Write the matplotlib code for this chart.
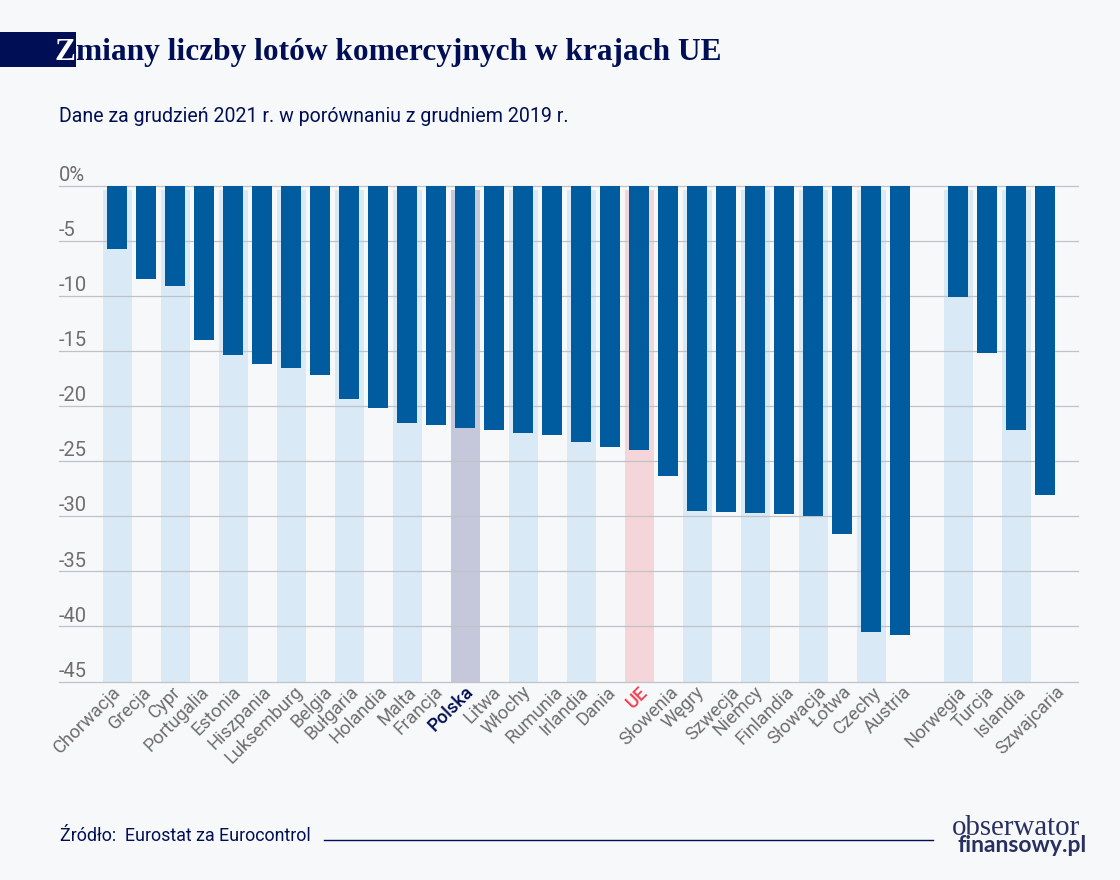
import matplotlib
matplotlib.use('Agg')
import matplotlib.pyplot as plt
from matplotlib.patches import Rectangle
from matplotlib.transforms import ScaledTranslation

countries = ['Chorwacja', 'Grecja', 'Cypr', 'Portugalia', 'Estonia', 'Hiszpania', 'Luksemburg', 'Belgia',
             'Bułgaria', 'Holandia', 'Malta', 'Francja', 'Polska', 'Litwa', 'Włochy', 'Rumunia', 'Irlandia',
             'Dania', 'UE', 'Słowenia', 'Węgry', 'Szwecja', 'Niemcy', 'Finlandia', 'Słowacja', 'Łotwa',
             'Czechy', 'Austria', 'Norwegia', 'Turcja', 'Islandia', 'Szwajcaria']
values = [-5.75, -8.45, -9.05, -14.0, -15.35, -16.2, -16.5, -17.2,
          -19.35, -20.15, -21.5, -21.7, -22.0, -22.2, -22.45, -22.65, -23.25,
          -23.7, -24.0, -26.35, -29.5, -29.6, -29.7, -29.8, -29.95, -31.6,
          -40.5, -40.8, -10.1, -15.15, -22.15, -28.05]
positions = list(range(28)) + [29, 30, 31, 32]
y_ticks = [0, -5, -10, -15, -20, -25, -30, -35, -40, -45]
y_labels = ['0%', '-5', '-10', '-15', '-20', '-25', '-30', '-35', '-40', '-45']

# labels in the original don't sit evenly under the bars, offset in px
label_dx = [-5, -4, -3, -4, -1, 0, 3, 3, 1, 0, 0, -2, -1, -2, -1, 2, -2,
            -3, 0, 1, -2, 4, -1, 1, 4, 0, 1, 2, -1, -2, 1, 10]

BG = '#f7f8fa'
NAVY = '#000f55'
DARK = '#005b9f'
LIGHT = '#d9eaf6'
GREY = '#6e6e6e'
W, H = 1120, 880

plt.rcParams['font.family'] = ['Roboto', 'DejaVu Sans']

fig = plt.figure(figsize=(W / 100, H / 100), dpi=100, facecolor=BG)

# axes placed in pixels: x 59-1078, y 186-681.5, bar 0 centred on 117
ax = fig.add_axes([59 / W, 1 - 681.5 / H, (1078 - 59) / W, (681.5 - 186) / H], facecolor=BG)
ax.set_xlim((59 - 117) / 29, (1078 - 117) / 29)
ax.set_ylim(-45, 0)

for t in y_ticks:
    ax.axhline(t, color='#bfc2c6', lw=0.9, zorder=2.5, clip_on=False)

# pale bands behind every second bar, slightly off centre like the original
for name, pos, val in zip(countries, positions, values):
    band = None
    if name == 'Polska':
        band = '#c5c8da'
    elif name == 'UE':
        band = '#f4d5d9'
    elif name in ('Norwegia', 'Islandia'):
        band = LIGHT
    elif pos % 2 == 0 and pos < 28:
        band = LIGHT
    if band:
        ax.bar(pos + 0.5 / 29, -45 + 0.35, bottom=-0.35, width=1.0, color=band, zorder=2)
    ax.bar(pos, val, width=20 / 29, color=DARK, zorder=3)

for t, lab in zip(y_ticks, y_labels):
    ax.text(0, t + 0.08, lab, transform=ax.get_yaxis_transform(), ha='left', va='bottom',
            fontsize=14.5, color=GREY)

ax.set_yticks([])
ax.set_xticks(positions)
ax.set_xticklabels(countries, rotation=45, ha='right', rotation_mode='anchor', fontsize=13.2, color=GREY)
ax.tick_params(axis='x', length=0, pad=1)
for lab, dx in zip(ax.get_xticklabels(), label_dx):
    lab.set_transform(lab.get_transform() + ScaledTranslation(dx / 100, 0, fig.dpi_scale_trans))
    if lab.get_text() == 'Polska':
        lab.set_color(NAVY)
        lab.set_fontweight('medium')
    elif lab.get_text() == 'UE':
        lab.set_color('#ef4050')
        lab.set_fontweight('medium')
for s in ax.spines.values():
    s.set_visible(False)

# header
fig.add_artist(Rectangle((0, 1 - 67 / H), 76 / W, 35 / H, transform=fig.transFigure, color=NAVY, lw=0))
fig.text(54 / W, 1 - 52.5 / H, 'Z', color='white', fontsize=22.6, fontweight='bold',
         family='Liberation Serif', va='center', ha='left')
fig.text(76 / W, 1 - 52.5 / H, 'miany liczby lotów komercyjnych w krajach UE', color=NAVY, fontsize=22.6,
         fontweight='bold', family='Liberation Serif', va='center', ha='left')
fig.text(59 / W, 1 - 116 / H, 'Dane za grudzień 2021 r. w porównaniu z grudniem 2019 r.', color=NAVY,
         fontsize=14.05, va='center', ha='left')

# footer
fig.text(60 / W, 1 - 836 / H, 'Źródło:  Eurostat za Eurocontrol', color=NAVY, fontsize=12.9,
         va='center', ha='left')
fig.add_artist(plt.Line2D([324 / W, 933 / W], [1 - 839.5 / H] * 2, color=NAVY, lw=1))
fig.text(952 / W, 1 - 828 / H, 'obserwator', color='#27305f', fontsize=20.8, family='Liberation Serif',
         va='center', ha='left')
fig.text(958 / W, 1 - 845 / H, 'finansowy.pl', color='#27305f', fontsize=16.5, fontweight='bold',
         family='Lato', va='center', ha='left')

fig.savefig('out.png', dpi=100, facecolor=BG)
